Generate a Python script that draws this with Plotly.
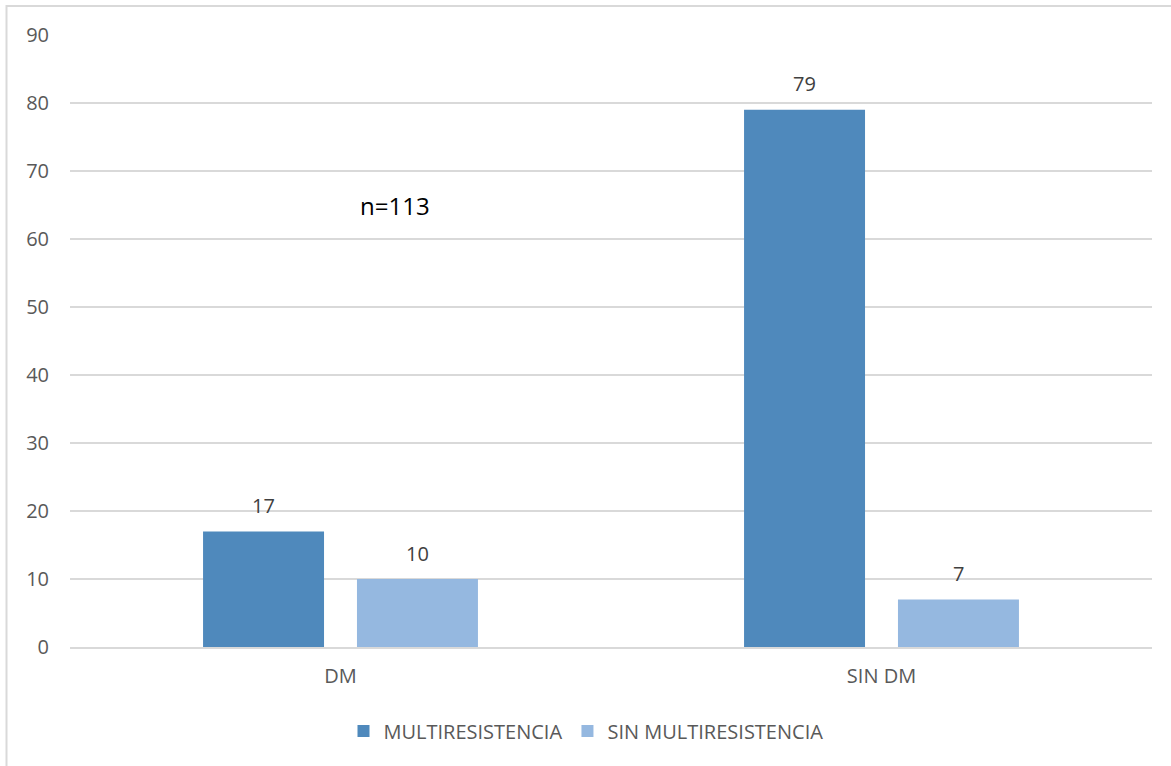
import plotly.graph_objects as go

categories = ["DM", "SIN DM"]
multi = [17, 79]
sin_multi = [10, 7]
series_names = ["MULTIRESISTENCIA", "SIN MULTIRESISTENCIA"]
note_text = "n=113"

FONT = "Open Sans"
C_DARK = "#4F89BC"
C_LIGHT = "#95B8E0"
GRID = "#D9D9D9"

fig = go.Figure()
fig.add_trace(go.Bar(x=categories, y=multi, name=series_names[0], marker=dict(color=C_DARK, line=dict(width=0))))
fig.add_trace(go.Bar(x=categories, y=sin_multi, name=series_names[1], marker=dict(color=C_LIGHT, line=dict(width=0))))

ann = []
for vals, shift in ((multi, -77), (sin_multi, 77)):
    for c, v in zip(categories, vals):
        ann.append(dict(x=c, y=v, xref="x", yref="y", text=str(v), showarrow=False,
                        xshift=shift, yshift=26, yanchor="middle",
                        font=dict(family=FONT, size=20, color="#404040")))
ann.append(dict(x=0.3, y=0.722, xref="paper", yref="paper", text=note_text, showarrow=False,
                xanchor="center", yanchor="middle", font=dict(family=FONT, size=24, color="#000000")))

L, R, T, B = 70, 19, 35, 119
pw, ph = 1171 - L - R, 766 - T - B

def px(x):
    return (x - L) / pw

def py(y):
    return (766 - B - y) / ph

border = dict(color=GRID, width=2)
fig.update_layout(
    width=1171, height=766,
    margin=dict(l=L, r=R, t=T, b=B, autoexpand=False),
    paper_bgcolor="white", plot_bgcolor="white",
    barmode="group", bargap=0.431, bargroupgap=0.214,
    font=dict(family=FONT, size=20, color="#595959"),
    showlegend=True,
    legend=dict(orientation="h", x=px(586), xanchor="center", y=py(731), yanchor="middle",
                font=dict(family=FONT, size=20, color="#595959"), itemwidth=30,
                bgcolor="rgba(0,0,0,0)"),
    annotations=ann,
    shapes=[
        dict(type="line", xref="paper", yref="paper", x0=px(6), y0=py(6), x1=px(1171), y1=py(6), line=border),
        dict(type="line", xref="paper", yref="paper", x0=px(6.5), y0=py(5), x1=px(6.5), y1=py(766), line=border),
    ],
)
fig.update_xaxes(showgrid=False, showline=True, linecolor=GRID, linewidth=2, ticks="",
                 ticklabelstandoff=10, tickfont=dict(family=FONT, size=20, color="#595959"))
fig.update_yaxes(range=[0, 90], dtick=10, showgrid=True, gridcolor=GRID, gridwidth=1.5,
                 zeroline=False, showline=False, ticks="", ticklabelstandoff=20,
                 tickfont=dict(family=FONT, size=20, color="#595959"))

fig.write_html("out.html")
